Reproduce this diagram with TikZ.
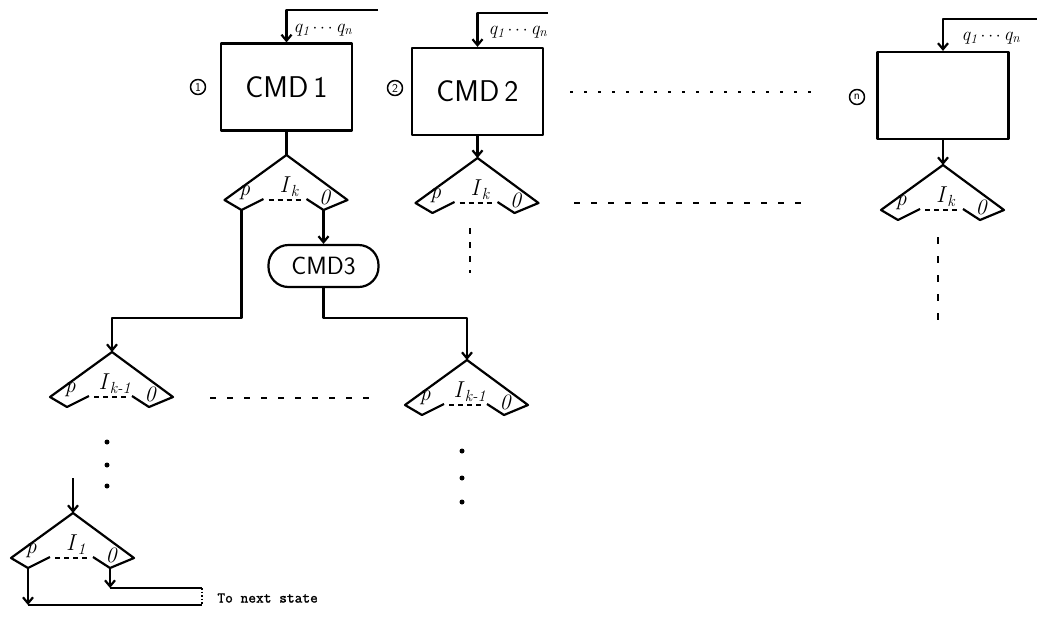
\documentclass[tikz,border=0pt]{standalone}
\usepackage{fontspec}
\usetikzlibrary{arrows.meta,calc}
\newfontfamily\typefont[FakeBold=1.5]{Latin Modern Mono}
\newcommand\isub[2]{\textit{#1}\textsubscript{\textit{#2}}}
\begin{document}
\begin{tikzpicture}[x=1pt,y=-1pt,line width=2.2pt,line join=round,
  arr/.style={-{Straight Barb[length=6pt,width=10pt]}},
  cmdbox/.style={draw,minimum width=131pt,minimum height=87pt,font=\fontsize{30}{32}\selectfont\sffamily},
  cmdround/.style={draw,rounded corners=20pt,minimum width=110pt,minimum height=42pt,font=\fontsize{25}{27}\selectfont\sffamily},
  tag/.style={draw,circle,line width=1.5pt,inner sep=0pt,minimum size=15pt,font=\fontsize{12}{12}\selectfont\sffamily},
  qlab/.style={font=\fontsize{19}{19}\selectfont\itshape},
  smlab/.style={font=\fontsize{22}{22}\selectfont\itshape},
  ilab/.style={font=\fontsize{23}{23}\selectfont},
  gap/.style={line width=2pt,dash pattern=on 6pt off 11pt},
  pics/opendia/.style={code={
    \coordinate (-top) at (0,0);
    \coordinate (-p) at (-45,55);
    \coordinate (-o) at (37,55);
    \draw (-23,44) -- (-p) -- (-62,45) -- (-top) -- (61,45) -- (-o) -- (20,44);
    \draw[line width=1.7pt,dash pattern=on 5pt off 4pt] (-18,45) -- (16,45);
    \node[smlab] (-pl) at (-42,38) {p};
    \node[smlab] (-ol) at (38,42) {0};
    \node[ilab] (-il) at (3,32) {#1};
  }}]
\useasboundingbox (0,0) rectangle (1037,622);

% command boxes with their feedback inputs
\node[cmdbox] (b1) at (286.5,87) {CMD\,1};
\node[cmdbox] (b2) at (477.5,91.5) {CMD\,2};
\node[cmdbox] (bn) at (943,95.5) {};

\coordinate (f1) at (378,10);
\coordinate (f2) at (548,13);
\coordinate (fn) at (1037,19);
\draw[arr] (f1) -| (b1.north);
\draw[arr] (f2) -| (b2.north);
\draw[arr] (fn) -| (bn.north);

\node[qlab] (q1) at (323,30) {q\textsubscript{1}\,$\cdots$\,q\textsubscript{n}};
\node[qlab] (q2) at (518,32) {q\textsubscript{1}\,$\cdots$\,q\textsubscript{n}};
\node[qlab] (qn) at (991,38) {q\textsubscript{1}\,$\cdots$\,q\textsubscript{n}};

\node[tag] (t1) at (198,87) {1};
\node[tag] (t2) at (395,88) {2};
\node[tag] (tn) at (857,97) {n};

% first level tests
\pic (d1) at (286.5,155) {opendia={\isub{I}{k}}};
\pic (d2) at (477.5,158) {opendia={\isub{I}{k}}};
\pic (dn) at (943,165) {opendia={\isub{I}{k}}};
\draw (b1.south) -- (d1-top);
\draw[arr] (b2.south) -- (d2-top);
\draw[arr] (bn.south) -- (dn-top);

\node[cmdround] (c3) at (323.5,266) {CMD3};
\draw[arr] (d1-o) -- (c3.north);

% second level tests
\pic (d3) at (112,352) {opendia={\isub{I}{k-1}}};
\pic (d4) at (467,360) {opendia={\isub{I}{k-1}}};
\coordinate (j1) at (112,318);
\coordinate (j2) at (467,318);
\draw[arr] (d1-p) |- (j1) -- (d3-top);
\draw[arr] (c3.south) |- (j2) -- (d4-top);

% continuation marks
\draw[line width=2pt,dash pattern=on 3pt off 11pt] (570,92) -- (817,92);
\draw[gap] (574,203) -- (810,203);
\draw[gap] (210,398) -- (370,398);
\draw[line width=2pt,dash pattern=on 6pt off 8pt] (470,228) -- (470,273);
\draw[line width=2pt,dash pattern=on 7pt off 12pt] (938,237) -- (938,323);
\foreach \yy in {442,465,486} \fill (107,\yy) circle (2.5pt);
\foreach \yy in {451,478,502} \fill (462,\yy) circle (2.5pt);

% last test
\pic (d5) at (73,513) {opendia={\isub{I}{1}}};
\coordinate (s5) at (73,478);
\draw[arr] (s5) -- (d5-top);

\coordinate (e1) at (202,605);
\coordinate (e2) at (202,588);
\draw[arr] (d5-p) -- (d5-p |- e1);
\draw (d5-p |- e1) -- (e1);
\draw[arr] (d5-o) -- (d5-o |- e2);
\draw (d5-o |- e2) -- (e2);
\draw[line width=1.6pt,dotted] (e2) -- (e1);
\node[anchor=west,font=\fontsize{15}{15}\selectfont\typefont] (nx) at (213,598) {To next state};
\end{tikzpicture}
\end{document}
